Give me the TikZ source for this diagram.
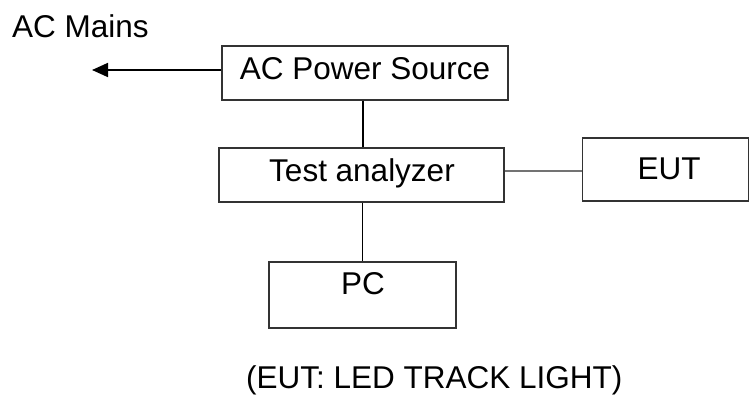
\documentclass[tikz,border=0pt]{standalone}
\usepackage{fontspec}
\setmainfont{Liberation Sans}
\usetikzlibrary{arrows.meta}

\tikzset{
  box/.style={draw=black!80, line width=1.3pt, fill=none, inner sep=0pt},
  lbl/.style={inner sep=0pt, font=\fontsize{31.5}{38}\selectfont},
  wire/.style={draw=black, line width=1.1pt},
  softwire/.style={draw=black!55, line width=1.3pt},
}

\begin{document}
\begin{tikzpicture}[x=1pt, y=-1pt]
  \useasboundingbox (0,0) rectangle (751,394);

  % boxes
  \node[box, minimum width=286pt, minimum height=54pt] (acps) at (365,73) {};
  \node[box, minimum width=285pt, minimum height=54pt] (ta)   at (361.5,175) {};
  \node[box, minimum width=166pt, minimum height=63pt] (eut)  at (665.5,169.5) {};
  \node[box, minimum width=187pt, minimum height=66pt] (pc)   at (362.5,295) {};

  % box captions
  \node[lbl, anchor=base] (acpsT) at (365,79.5) {AC Power Source};
  \node[lbl, anchor=base] (taT)   at (362,181) {Test analyzer};
  \node[lbl, anchor=base] (eutT)  at (669,179) {EUT};
  \node[lbl, anchor=base] (pcT)   at (363,294) {PC};

  % free texts
  \node[lbl, anchor=base west] (mains) at (12,37.5) {AC Mains};
  \node[lbl, anchor=base west] (note)  at (246,388) {(EUT: LED TRACK LIGHT)};

  % arrow towards the mains
  \coordinate (tip) at (92,70);
  \draw[line width=1.8pt, -{Triangle[length=16pt,width=14pt]}]
    (tip -| acps.west) -- (tip);

  % vertical links
  \draw[wire] ([xshift=-2pt]acps.south) -- ([xshift=-2pt]acps.south |- ta.north);
  \draw[wire] ([xshift=1pt]ta.south) -- ([xshift=1pt]ta.south |- pc.north);

  % link to the EUT
  \draw[softwire] ([yshift=4pt]ta.east) -- ([yshift=4pt]ta.east -| eut.west);
\end{tikzpicture}
\end{document}
